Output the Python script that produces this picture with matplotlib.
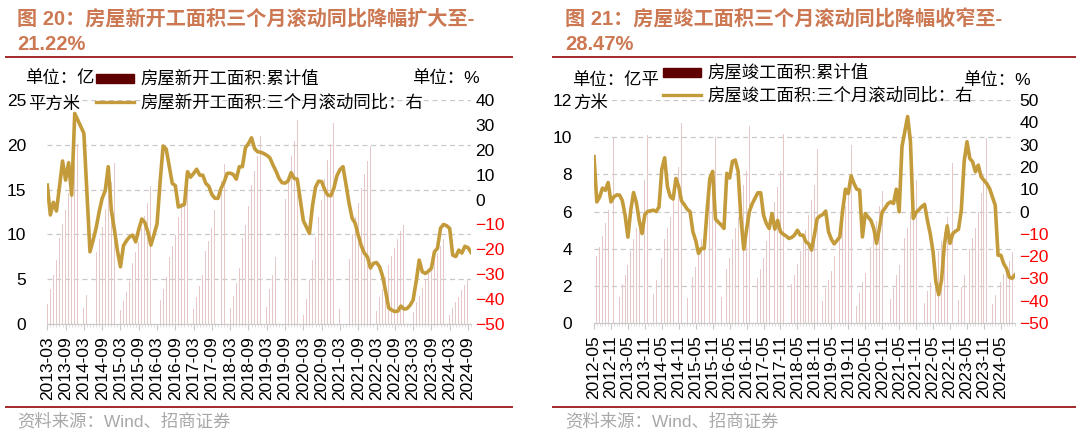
import numpy as np
import pandas as pd
import matplotlib
matplotlib.use('Agg')
import matplotlib.pyplot as plt
from matplotlib.lines import Line2D
from matplotlib.patches import Rectangle
from matplotlib.ticker import MultipleLocator

plt.rcParams['font.family'] = ['Liberation Sans', 'Noto Sans CJK SC', 'DejaVu Sans']

nan = np.nan

# ---- chart 20: new starts (2013-03 .. 2024-10) ----
starts_months = pd.date_range('2013-03-01', '2024-10-01', freq='MS')
starts_cum = [
    2.23, 3.89, 5.42, 7.17, 9.56, 11.17, 12.77, 14.65, 16.28, 17.87,
    20.12, nan, 1.84, 3.2, 4.33, 5.82, 8.05, 9.5, 10.79, 12.8, 14.4, 15.8,
    17.96, nan, 1.56, 2.6, 3.6, 4.8, 6.77, 8.0, 9.1, 10.7, 12.1, 13.5,
    15.45, nan, 1.51, 2.69, 3.91, 5.19, 7.45, 8.68, 9.95, 11.9, 13.48, 14.9,
    16.69, nan, 1.63, 3.06, 4.19, 5.46, 8.1, 9.3, 10.7, 12.7, 14.4, 16.0,
    17.87, nan, 1.8, 3.18, 4.6, 6.2, 9.6, 11.0, 13.2, 15.5, 17.1, 18.8,
    20.93, nan, 1.89, 3.9, 5.5, 7.5, 10.6, 12.1, 14.0, 16.5, 18.8, 20.4,
    22.72, nan, 1.0, 2.8, 4.9, 7.1, 9.75, 11.9, 13.8, 16.2, 18.3, 20.1,
    22.44, nan, 1.7, 3.6, 5.3, 7.3, 10.1, 11.9, 13.5, 15.2, 16.7, 18.2,
    19.89, nan, 1.5, 2.98, 3.9, 5.2, 6.6, 7.6, 8.5, 9.5, 10.4, 11.1,
    12.06, nan, 1.36, 2.4, 3.1, 3.98, 5.0, 5.68, 6.3, 7.2, 7.9, 8.7,
    9.54, nan, 0.99, 1.75, 2.4, 3.0, 3.8, 4.4, 5.0, 5.6,
]
starts_yoy3m = [
    5.8, -6.2, -1.1, -4.6, 5.2, 15.5, 7.8, 14.8, 1.8, 34.6,
    32.0, 29.3, 26.6, 2.5, -21.0, -16.5, -11.5, -5.0, 0.5, 3.5,
    13.2, -4.2, -12.0, -20.5, -27.0, -18.5, -16.5, -15.0, -14.3, -17.0,
    -12.0, -7.8, -9.2, -13.0, -18.3, -14.0, -9.8, 7.0, 21.5, 20.3,
    13.5, 6.5, 5.6, -3.0, -2.5, -1.9, 11.2, 9.0, 10.5, 12.2,
    9.8, 9.8, 6.5, 5.3, 2.0, 0.5, 0.5, 4.5, 7.0, 10.5,
    10.6, 10.1, 8.2, 13.2, 13.2, 20.8, 22.5, 24.8, 20.5, 19.2,
    19.0, 18.5, 17.8, 16.8, 14.0, 11.5, 8.5, 6.8, 6.6, 7.5,
    10.8, 8.5, 8.2, 0.0, -8.5, -11.0, -13.6, -2.5, 5.0, 7.4,
    7.2, 4.0, 1.8, 1.5, 4.5, 9.5, 12.0, 13.2, 6.0, -1.5,
    -7.5, -9.5, -14.3, -18.5, -21.5, -23.0, -27.5, -25.6, -25.3, -27.0,
    -30.8, -37.0, -43.5, -44.4, -45.0, -44.8, -42.8, -44.0, -43.8, -42.5,
    -40.4, -33.0, -24.3, -29.0, -29.7, -28.8, -27.6, -21.0, -19.6, -11.5,
    -10.0, -10.5, -11.6, -22.3, -22.9, -20.3, -21.5, -18.8, -19.3, -21.22,
]

# ---- chart 21: completions (2012-05 .. 2024-10) ----
comp_months = pd.date_range('2012-05-01', '2024-10-01', freq='MS')
comp_cum = [
    2.76, 3.6, 4.1, 4.7, 5.4, 6.1, 6.9, 9.94,
    nan, 1.42, 2.1, 2.6, 3.1, 3.9, 4.5, 5.1, 5.9, 6.8, 7.7, 10.14,
    nan, 1.55, 2.3, 2.9, 3.5, 4.5, 5.1, 5.7, 6.7, 7.6, 8.4, 10.75,
    nan, 1.36, 2.0, 2.5, 3.0, 3.9, 4.5, 5.1, 6.0, 6.9, 7.7, 10.0,
    nan, 1.38, 2.3, 2.9, 3.5, 4.5, 5.1, 5.7, 6.6, 7.4, 8.2, 10.6,
    nan, 1.5, 2.4, 2.9, 3.5, 4.4, 5.0, 5.6, 6.5, 7.3, 8.2, 10.15,
    nan, 1.3, 2.1, 2.6, 3.2, 3.9, 4.5, 5.0, 5.8, 6.6, 7.4, 9.38,
    nan, 1.2, 1.9, 2.3, 2.8, 3.6, 4.1, 4.7, 5.5, 6.3, 7.2, 9.59,
    nan, 0.9, 1.6, 2.2, 2.7, 3.5, 4.1, 4.7, 5.5, 6.3, 7.1, 9.12,
    nan, 1.28, 1.9, 2.6, 3.1, 4.0, 4.6, 5.1, 5.9, 6.8, 7.7, 10.14,
    nan, 1.1, 1.7, 2.2, 2.6, 3.3, 3.9, 4.4, 4.9, 5.7, 6.5, 8.62,
    nan, 1.25, 1.95, 2.6, 3.2, 4.0, 4.6, 5.1, 6.0, 7.0, 8.0, 9.98,
    nan, 1.0, 1.5, 1.8, 2.2, 2.65, 2.95, 3.35, 3.8, 4.25,
]
comp_yoy3m = [
    24.6, 4.3, 6.5, 10.5, 9.5, 13.0, 4.3, 6.5, 7.4, 7.4,
    5.0, -1.6, -11.5, 0.6, 8.5, 4.0, -4.0, -9.9, -1.3, 0.0,
    0.3, 0.6, 0.0, 2.0, 19.0, 24.1, 11.1, 6.6, 5.6, 14.8,
    11.1, 4.7, 3.0, 1.0, -0.1, -9.1, -13.0, -18.8, -16.6, -16.6,
    0.0, 14.8, 18.0, -3.4, -4.8, -6.0, -7.6, 17.1, 15.0, 22.5,
    23.1, 18.0, -3.1, -16.9, -8.0, 0.0, 3.5, 5.9, 8.4, 8.4,
    -1.6, -5.4, -7.6, -0.9, -7.9, -4.0, -9.1, -10.2, -11.0, -12.1,
    -11.6, -10.5, -8.4, -10.6, -10.6, -13.6, -14.5, -17.3, -10.6, -3.1,
    -2.0, -1.3, 0.2, -9.1, -12.4, -14.5, -13.0, -11.4, 0.5, 10.0,
    8.1, 16.0, 12.6, 10.0, 9.6, -11.4, -0.9, -2.5, -4.0, -7.6,
    -14.3, -7.6, -0.1, 1.5, 3.5, 4.3, 3.6, 10.0, -0.1, 29.1,
    35.8, 42.6, 31.3, -3.1, -0.4, 0.8, 2.2, 3.2, -4.0, -10.0,
    -18.1, -31.6, -37.3, -30.8, -15.1, -6.4, -14.3, -9.9, -8.8, -8.0,
    0.6, 22.3, 31.3, 23.8, 22.3, 17.8, 20.8, 15.6, 14.0, 12.5,
    10.3, 6.6, 2.8, -19.6, -19.6, -23.4, -25.6, -29.5, -30.0, -28.47,
]

W, H = 1080, 438
GOLD = '#C39B3A'
MAROON = '#5E0000'
BARC = '#E5C8C8'
TITLE_C = '#CC7852'
RULE_C = '#A3282B'

fig = plt.figure(figsize=(W / 100, H / 100), dpi=100)


def fx(x):
    return x / W


def fy(y):
    return 1 - y / H


def panel(x0, x1, y0, y1, months, cum, yoy, lmax, lstep, rlim, lpad):
    ax = fig.add_axes([fx(x0), fy(y1), (x1 - x0) / W, (y1 - y0) / H])
    idx = np.arange(len(months))
    ax.bar(idx, cum, width=0.3, color=BARC, zorder=2)
    ax.set_xlim(0, len(months) - 1)
    ax.set_ylim(0, lmax)
    ax.yaxis.set_major_locator(MultipleLocator(lstep))
    ax.grid(axis='y', color='#C8C8C8', linestyle=(0, (4, 3)), linewidth=0.9, zorder=1)
    ax.set_axisbelow(True)
    for s in ['left', 'right', 'top']:
        ax.spines[s].set_visible(False)
    ax.spines['bottom'].set_color('#C8C8C8')
    ticks = idx[::6]
    ax.set_xticks(ticks)
    ax.set_xticklabels([months[i].strftime('%Y-%m') for i in ticks], rotation=90, fontsize=12.5)
    ax.set_xticks(idx, minor=True)
    ax.tick_params(axis='x', which='major', length=4, color='#C8C8C8', pad=5)
    ax.tick_params(axis='x', which='minor', length=2, color='#D8D8D8')
    ax.tick_params(axis='y', length=0, labelsize=12.5, pad=lpad)

    ax2 = ax.twinx()
    ax2.plot(idx, yoy, color=GOLD, linewidth=2.6, zorder=3)
    ax2.set_ylim(*rlim)
    ax2.yaxis.set_major_locator(MultipleLocator(10))
    for s in ['left', 'right', 'top', 'bottom']:
        ax2.spines[s].set_visible(False)
    ax2.tick_params(axis='y', length=0, labelsize=12.5, pad=3)
    fig.canvas.draw()
    for lab, v in zip(ax2.get_yticklabels(), ax2.get_yticks()):
        lab.set_color('#FF0000' if v < 0 else 'black')
    return ax, ax2


def legend(px, ty1, ty2, t1, t2):
    fig.add_artist(Rectangle((fx(px), fy(ty1 + 4.5)), 38 / W, 9 / H,
                             transform=fig.transFigure, color=MAROON))
    fig.add_artist(Line2D([fx(px), fx(px + 38)], [fy(ty2), fy(ty2)],
                          transform=fig.transFigure, color=GOLD, linewidth=2.4))
    fig.text(fx(px + 44), fy(ty1), t1, fontsize=12.5, va='center', ha='left')
    fig.text(fx(px + 44), fy(ty2), t2, fontsize=12.5, va='center', ha='left')


def frame(x0, x1, tx, title1, title2):
    fig.text(fx(tx), fy(19), title1, fontsize=14.5, fontweight='bold', color=TITLE_C,
             va='center', ha='left')
    fig.text(fx(tx), fy(45), title2, fontsize=14.5, fontweight='bold', color=TITLE_C,
             va='center', ha='left')
    fig.add_artist(Line2D([fx(x0), fx(x1)], [fy(57), fy(57)], transform=fig.transFigure,
                          color=RULE_C, linewidth=1.4))
    fig.add_artist(Line2D([fx(x0), fx(x1)], [fy(407), fy(407)], transform=fig.transFigure,
                          color=RULE_C, linewidth=1.4))
    fig.text(fx(tx), fy(421), '资料来源：Wind、招商证券', fontsize=12.5, color='#A8A8A8',
             va='center', ha='left')


# left panel
panel(47.3, 471, 100, 324, starts_months, starts_cum, starts_yoy3m, 25, 5, (-50, 40), 15)
frame(6, 512, 17, '图 20：房屋新开工面积三个月滚动同比降幅扩大至-', '21.22%')
fig.text(fx(25), fy(78), '单位：亿', fontsize=12.5, va='center', ha='left')
fig.text(fx(28), fy(104), '平方米', fontsize=12.5, va='center', ha='left')
fig.text(fx(412), fy(78), '单位：%', fontsize=12.5, va='center', ha='left')
legend(96, 78, 102, '房屋新开工面积:累计值', '房屋新开工面积:三个月滚动同比：右')

# right panel
panel(594, 1015, 100, 323, comp_months, comp_cum, comp_yoy3m, 12, 2, (-50, 50), 16)
frame(553, 1075, 565, '图 21：房屋竣工面积三个月滚动同比降幅收窄至-', '28.47%')
fig.text(fx(572), fy(80), '单位：亿平', fontsize=12.5, va='center', ha='left')
fig.text(fx(573), fy(103), '方米', fontsize=12.5, va='center', ha='left')
fig.text(fx(963), fy(80), '单位：%', fontsize=12.5, va='center', ha='left')
legend(663, 72, 95, '房屋竣工面积:累计值', '房屋竣工面积:三个月滚动同比：右')

fig.savefig('out.png', dpi=100)
